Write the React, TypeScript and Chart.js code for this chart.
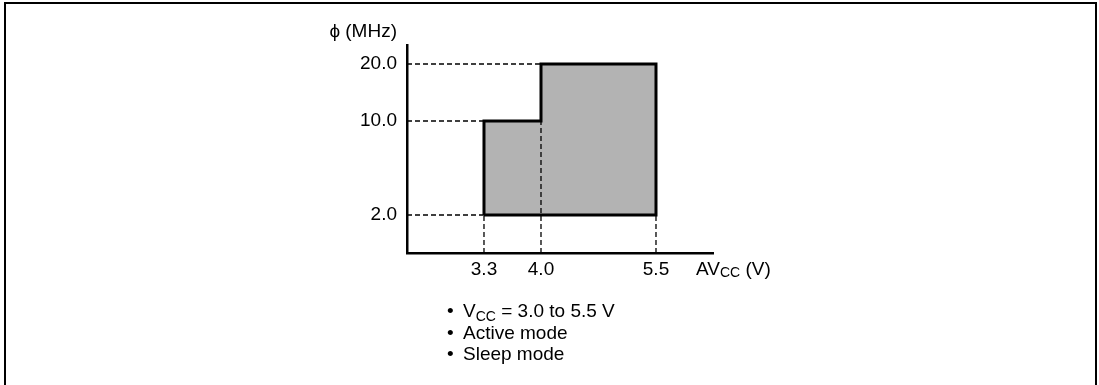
import React, { useEffect, useRef } from 'react';
import { Chart, registerables, LinearScale } from 'chart.js';

// ---------- data ----------
const voltageTicks = [3.3, 4.0, 5.5]; // AVcc (V)
const frequencyTicks = [2.0, 10.0, 20.0]; // φ (MHz)
// operating region outline, clockwise from bottom-left
const regionVoltage = [3.3, 3.3, 4.0, 4.0, 5.5, 5.5, 3.3];
const regionFrequency = [2.0, 10.0, 10.0, 20.0, 20.0, 2.0, 2.0];
// where each dashed guide meets the region
const frequencyGuideEnds = [3.3, 3.3, 4.0]; // voltage reached by each frequency guide
const voltageGuideEnds = [2.0, 10.0, 2.0]; // frequency reached by each voltage guide
const yAxisTitle = 'ϕ (MHz)';
const xAxisTitle = ['AV', 'CC', ' (V)'];
const noteLines = [['V', 'CC', ' = 3.0 to 5.5 V'], ['Active mode'], ['Sleep mode']];

// ---------- schematic (non-uniform) axis layout: [value, fraction of axis] ----------
const AXIS_STOPS: Record<string, number[][]> = {
  x: [[2.3, 0], [3.3, 0.2516], [4.0, 0.4379], [5.5, 0.8137], [6.25, 1]],
  y: [[0, 0], [2, 0.1827], [10, 0.6346], [20, 0.9087], [23, 1]],
};

function interp(v: number, a: number[], b: number[]) {
  let i = 0;
  while (i < a.length - 2 && v > a[i + 1]) i++;
  const t = (v - a[i]) / (a[i + 1] - a[i]);
  return b[i] + t * (b[i + 1] - b[i]);
}

class SchematicScale extends (LinearScale as any) {
  static id = 'schematic';
  getPixelForValue(value: number) {
    if (value === null || value === undefined || isNaN(value)) return NaN;
    const stops = AXIS_STOPS[(this as any).id];
    const d = interp(value, stops.map((s) => s[0]), stops.map((s) => s[1]));
    return (this as any).getPixelForDecimal(d);
  }
  getValueForPixel(pixel: number) {
    const stops = AXIS_STOPS[(this as any).id];
    const d = (this as any).getDecimalForPixel(pixel);
    return interp(d, stops.map((s) => s[1]), stops.map((s) => s[0]));
  }
}

Chart.register(...registerables, SchematicScale as any);

const FONT = "'Liberation Sans', Arial, Helvetica, sans-serif";
const FONT_SIZE = 19;

const xMin = AXIS_STOPS.x[0][0];
const xMax = AXIS_STOPS.x[AXIS_STOPS.x.length - 1][0];
const yMin = AXIS_STOPS.y[0][0];
const yMax = AXIS_STOPS.y[AXIS_STOPS.y.length - 1][0];

const axisTitlesPlugin = {
  id: 'axisTitles',
  afterDraw(chart: any) {
    const { ctx, chartArea } = chart;
    ctx.save();
    ctx.fillStyle = '#000';
    ctx.textBaseline = 'middle';
    ctx.font = `${FONT_SIZE}px ${FONT}`;
    ctx.textAlign = 'right';
    ctx.fillText(yAxisTitle, chartArea.left - 10, chartArea.top - 13);
    // x title with subscript
    ctx.textAlign = 'left';
    const y = chartArea.bottom + 5 + (FONT_SIZE * 1.2) / 2;
    let x = chartArea.right - 17;
    ctx.fillText(xAxisTitle[0], x, y);
    x += ctx.measureText(xAxisTitle[0]).width;
    ctx.font = `14px ${FONT}`;
    ctx.fillText(xAxisTitle[1], x, y + 4);
    x += ctx.measureText(xAxisTitle[1]).width;
    ctx.font = `${FONT_SIZE}px ${FONT}`;
    ctx.fillText(xAxisTitle[2], x, y);
    ctx.restore();
  },
};

function buildConfig(): any {
  const dashed = { borderColor: '#000', borderWidth: 1.3, borderDash: [5, 3], pointRadius: 0, fill: false, tension: 0 };
  const datasets: any[] = [
    {
      label: 'Operating range',
      data: regionVoltage.map((v, i) => ({ x: v, y: regionFrequency[i] })),
      borderColor: '#000',
      borderWidth: 3,
      backgroundColor: '#b3b3b3',
      fill: 'shape',
      pointRadius: 0,
      tension: 0,
      borderJoinStyle: 'miter',
    },
  ];
  frequencyTicks.forEach((f, i) => {
    datasets.push({ ...dashed, data: [{ x: xMin, y: f }, { x: frequencyGuideEnds[i], y: f }] });
  });
  voltageTicks.forEach((v, i) => {
    datasets.push({ ...dashed, data: [{ x: v, y: yMin }, { x: v, y: voltageGuideEnds[i] }] });
  });

  const tickFont = { family: FONT, size: FONT_SIZE };
  return {
    type: 'line',
    data: { datasets },
    options: {
      responsive: false,
      maintainAspectRatio: false,
      devicePixelRatio: 1,
      animation: false,
      events: [],
      layout: { padding: { left: 347, right: 386, top: 45, bottom: 102 } },
      plugins: {
        legend: { display: false },
        tooltip: { enabled: false },
        filler: { propagate: false, drawTime: 'beforeDatasetsDraw' },
      },
      scales: {
        x: {
          type: 'schematic',
          min: xMin,
          max: xMax,
          grid: { display: false, drawTicks: false },
          border: { display: true, color: '#000', width: 2.5 },
          afterBuildTicks: (s: any) => { s.ticks = voltageTicks.map((v) => ({ value: v })); },
          afterFit: (s: any) => { s.height = 30; },
          ticks: {
            autoSkip: false,
            maxRotation: 0,
            padding: 5,
            color: '#000',
            font: tickFont,
            callback: (v: any) => Number(v).toFixed(1),
          },
        },
        y: {
          type: 'schematic',
          min: yMin,
          max: yMax,
          grid: { display: false, drawTicks: false },
          border: { display: true, color: '#000', width: 2.5 },
          afterBuildTicks: (s: any) => { s.ticks = frequencyTicks.map((v) => ({ value: v })); },
          afterFit: (s: any) => { s.width = 60; },
          ticks: {
            autoSkip: false,
            padding: 10,
            color: '#000',
            font: tickFont,
            callback: (v: any) => Number(v).toFixed(1),
          },
        },
      },
    },
    plugins: [axisTitlesPlugin],
  };
}

export default function App() {
  const ref = useRef<HTMLCanvasElement>(null);
  useEffect(() => {
    const chart = new Chart(ref.current as HTMLCanvasElement, buildConfig());
    return () => chart.destroy();
  }, []);

  return (
    <div style={{ position: 'absolute', left: 0, top: 0, width: 1099, height: 385, background: '#fff', overflow: 'hidden' }}>
      <canvas ref={ref} width={1099} height={385} style={{ position: 'absolute', left: 0, top: 0, width: 1099, height: 385 }} />
      <div
        style={{
          position: 'absolute', left: 4, top: 2, width: 1093, height: 400, boxSizing: 'border-box',
          borderLeft: '2px solid #000', borderTop: '2px solid #000', borderRight: '2px solid #000',
        }}
      />
      <div style={{ position: 'absolute', left: 447, top: 300, fontFamily: FONT, fontSize: FONT_SIZE, color: '#000' }}>
        {noteLines.map((parts, i) => (
          <div key={i} style={{ position: 'relative', height: 21.5, lineHeight: '21.5px', whiteSpace: 'nowrap' }}>
            <span style={{ position: 'absolute', left: 0 }}>•</span>
            <span style={{ position: 'absolute', left: 16 }}>
              {parts[0]}
              {parts.length > 1 && (
                <span style={{ fontSize: 14, position: 'relative', top: 4 }}>{parts[1]}</span>
              )}
              {parts.length > 2 && parts[2]}
            </span>
          </div>
        ))}
      </div>
    </div>
  );
}
